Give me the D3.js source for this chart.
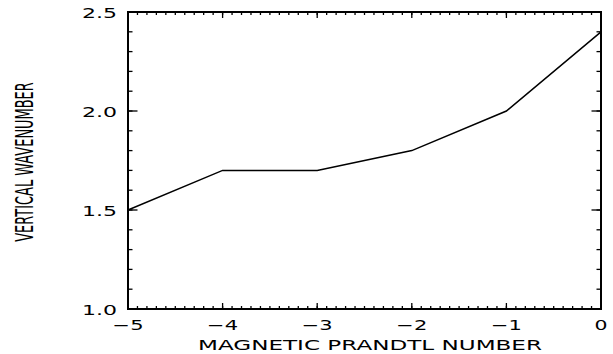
<!DOCTYPE html>
<html>
<head>
<meta charset="utf-8">
<script src="https://cdn.jsdelivr.net/npm/d3@7"></script>
<style>
  body { margin: 0; background: #fff; }
  svg { display: block; }
  text { font-family: "DejaVu Sans", sans-serif; fill: #000; }
</style>
</head>
<body>
<script>
var prandtl = [-5, -4, -3, -2, -1, 0];
var wavenumber = [1.5, 1.7, 1.7, 1.8, 2.0, 2.4];
var xTicks = [-5, -4, -3, -2, -1, 0];
var yTicks = [1.0, 1.5, 2.0, 2.5];

var W = 613, H = 354;
var margin = {top: 12, right: 12, bottom: 45, left: 128};
var width = W - margin.left - margin.right,
  height = H - margin.top - margin.bottom;

var x = d3.scaleLinear().domain([-5, 0]).range([0, width]);
var y = d3.scaleLinear().domain([1.0, 2.5]).range([height, 0]);

var svg = d3.select("body").append("svg")
  .attr("width", W)
  .attr("height", H);

var g = svg.append("g")
  .attr("transform", "translate(" + margin.left + "," + margin.top + ")");

var xMinor = d3.range(-50, 1).map(function(d) { return d / 10; });
var yMinor = d3.range(10, 26).map(function(d) { return d / 10; });

// inward ticks on all four sides, IDL style
function ticks(sel, scale, vals, len, side) {
  sel.selectAll(null)
    .data(vals)
    .enter().append("line")
    .attr("stroke", "#000")
    .attr("stroke-width", 1.3)
    .each(function(d) {
      var s = d3.select(this), p = scale(d);
      if (side === "b") s.attr("x1", p).attr("x2", p).attr("y1", height).attr("y2", height - len);
      if (side === "t") s.attr("x1", p).attr("x2", p).attr("y1", 0).attr("y2", len);
      if (side === "l") s.attr("y1", p).attr("y2", p).attr("x1", 0).attr("x2", len);
      if (side === "r") s.attr("y1", p).attr("y2", p).attr("x1", width).attr("x2", width - len);
    });
}

ticks(g, x, xMinor, 3, "b");
ticks(g, x, xTicks, 6, "b");
ticks(g, x, xMinor, 3, "t");
ticks(g, x, xTicks, 6, "t");
ticks(g, y, yMinor, 4.5, "l");
ticks(g, y, yTicks, 9.5, "l");
ticks(g, y, yMinor, 4.5, "r");
ticks(g, y, yTicks, 9.5, "r");

g.append("rect")
  .attr("width", width)
  .attr("height", height)
  .attr("fill", "none")
  .attr("stroke", "#000")
  .attr("stroke-width", 2);

g.selectAll(".xlab")
  .data(xTicks)
  .enter().append("text")
  .attr("class", "xlab")
  .attr("x", function(d) { return x(d); })
  .attr("y", height + 21)
  .attr("text-anchor", "middle")
  .style("font-size", "14px")
  .attr("textLength", function(d) { return d < 0 ? 31 : 13; })
  .attr("lengthAdjust", "spacingAndGlyphs")
  .text(function(d) { return d < 0 ? "\u2212" + Math.abs(d) : "0"; });

g.selectAll(".ylab")
  .data(yTicks)
  .enter().append("text")
  .attr("class", "ylab")
  .attr("x", -11)
  .attr("y", function(d) { return y(d) + 6; })
  .attr("text-anchor", "end")
  .style("font-size", "14px")
  .attr("textLength", 35)
  .attr("lengthAdjust", "spacingAndGlyphs")
  .text(function(d) { return d.toFixed(1); });

var line = d3.line()
  .x(function(d, i) { return x(prandtl[i]); })
  .y(function(d) { return y(d); });

g.append("path")
  .datum(wavenumber)
  .attr("d", line)
  .attr("fill", "none")
  .attr("stroke", "#000")
  .attr("stroke-width", 1.5);

svg.append("text")
  .attr("x", 370)
  .attr("y", 350)
  .attr("text-anchor", "middle")
  .style("font-size", "14px")
  .attr("textLength", 344)
  .attr("lengthAdjust", "spacingAndGlyphs")
  .text("MAGNETIC PRANDTL NUMBER");

// narrow label: squeeze a 16px font along its length
svg.append("text")
  .attr("transform", "translate(33,162) rotate(-90) scale(0.81,1.5)")
  .attr("text-anchor", "middle")
  .style("font-size", "16px")
  .text("VERTICAL WAVENUMBER");
</script>
</body>
</html>
